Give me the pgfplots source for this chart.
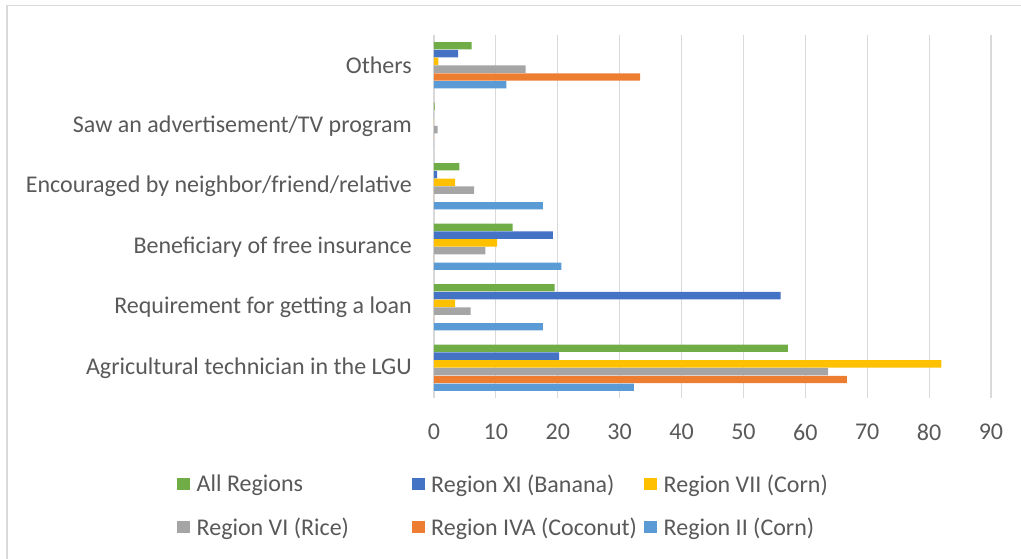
\documentclass[border=0pt]{standalone}
\usepackage{pgfplots}
\pgfplotsset{compat=1.18}
\usepackage{fontspec}
\setmainfont{Carlito}
\definecolor{cAll}{HTML}{70AD47}
\definecolor{cXI}{HTML}{4472C4}
\definecolor{cVII}{HTML}{FFC000}
\definecolor{cVI}{HTML}{A5A5A5}
\definecolor{cIVA}{HTML}{ED7D31}
\definecolor{cII}{HTML}{5B9BD5}
\definecolor{txt}{HTML}{595959}
\definecolor{grd}{HTML}{D9D9D9}
\begin{document}
\fontsize{24bp}{28bp}\selectfont
\begin{tikzpicture}
\useasboundingbox (-434bp,-161bp) rectangle (587bp,398bp);
\draw[grd, line width=1.2bp] (-427bp,-170bp) -- (-427bp,392.5bp) -- (600bp,392.5bp);
\begin{axis}[
  at={(0,0)}, anchor=south west,
  scale only axis, width=557bp, height=363bp,
  xbar, bar width=7.4bp,
  xmin=0, xmax=90, xtick={0,10,...,90},
  ymin=-0.5, ymax=5.5, ytick={0,1,2,3,4,5},
  yticklabels={Agricultural technician in the LGU,Requirement for getting a loan,Beneficiary of free insurance,Encouraged by neighbor/friend/relative,Saw an advertisement/TV program,Others},
  axis line style={draw=none},
  major tick length=0pt,
  xmajorgrids, grid style={grd, line width=1.2bp},
  tick label style={text=txt, font=\fontsize{24bp}{28bp}\selectfont},
  /pgf/number format/assume math mode=true,
  xticklabel style={yshift=-18bp},
  yticklabel style={xshift=-14bp},
  legend columns=3,
  legend style={draw=none, at={(-0.4614,-0.211)}, anchor=north west, inner sep=0pt,
    font=\fontsize{24bp}{28bp}\selectfont, text=txt, row sep=21.5bp,
    nodes={inner sep=0pt},
    /tikz/every odd column/.style={column sep=6.5bp},
    /tikz/every even column/.style={column sep=0bp}},
  legend cell align=left,
  legend image code/.code={\path[#1, draw=none] (0bp,-5bp) rectangle (13bp,7bp);},
]
\addplot[fill=cAll, draw=none, bar shift=19.5bp] coordinates {(57.2,0) (19.5,1) (12.7,2) (4.1,3) (0.1,4) (6.1,5)};
\addlegendentry{\makebox[215bp][l]{All Regions}}
\addplot[fill=cXI, draw=none, bar shift=11.7bp] coordinates {(20.2,0) (56.0,1) (19.2,2) (0.5,3) (0,4) (3.9,5)};
\addlegendentry{\makebox[213bp][l]{Region XI (Banana)}}
\addplot[fill=cVII, draw=none, bar shift=3.9bp] coordinates {(82.0,0) (3.4,1) (10.2,2) (3.4,3) (0,4) (0.7,5)};
\addlegendentry{Region VII (Corn)}
\addplot[fill=cVI, draw=none, bar shift=-3.9bp] coordinates {(63.7,0) (5.9,1) (8.3,2) (6.5,3) (0.6,4) (14.8,5)};
\addlegendentry{\makebox[215bp][l]{Region VI (Rice)}}
\addplot[fill=cIVA, draw=none, bar shift=-11.7bp] coordinates {(66.7,0) (0,1) (0,2) (0,3) (0,4) (33.3,5)};
\addlegendentry{\makebox[213bp][l]{Region IVA (Coconut)}}
\addplot[fill=cII, draw=none, bar shift=-19.5bp] coordinates {(32.3,0) (17.6,1) (20.6,2) (17.6,3) (0,4) (11.7,5)};
\addlegendentry{Region II (Corn)}
\end{axis}
\end{tikzpicture}
\end{document}
